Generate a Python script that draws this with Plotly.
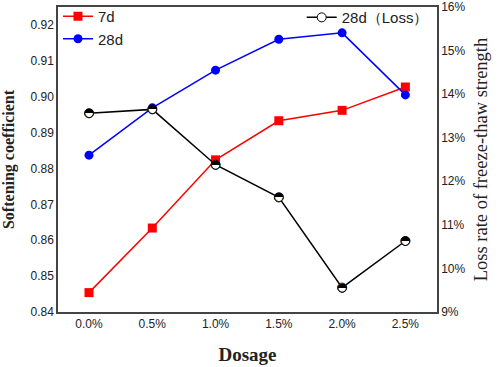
import plotly.graph_objects as go

dosage = ["0.0%", "0.5%", "1.0%", "1.5%", "2.0%", "2.5%"]
soft_7d = [0.8454, 0.8634, 0.8824, 0.8933, 0.8962, 0.9027]
soft_28d = [0.8837, 0.8969, 0.9074, 0.9160, 0.9178, 0.9005]
loss_28d = [0.1356, 0.1365, 0.1238, 0.1163, 0.0956, 0.1063]

fig = go.Figure()
fig.add_trace(go.Scatter(x=dosage, y=soft_7d, name="7d", mode="lines+markers",
                         line=dict(color="#FF0000", width=1.5),
                         marker=dict(symbol="square", size=9, color="#FF0000"),
                         legend="legend"))
fig.add_trace(go.Scatter(x=dosage, y=soft_28d, name="28d", mode="lines+markers",
                         line=dict(color="#0000FF", width=1.5),
                         marker=dict(symbol="circle", size=9, color="#0000FF"),
                         legend="legend"))
fig.add_trace(go.Scatter(x=dosage, y=loss_28d, name="28d（Loss）", mode="lines+markers",
                         yaxis="y2",
                         line=dict(color="#000000", width=1.5),
                         marker=dict(symbol="circle", size=9, color="#FFFFFF",
                                     line=dict(color="#000000", width=1)),
                         legend="legend2"))
fig.add_trace(go.Scatter(x=dosage, y=loss_28d, mode="text", yaxis="y2",
                         text=["◓"] * len(dosage), textposition="middle center",
                         textfont=dict(family="DejaVu Sans", size=12, color="#000000"),
                         showlegend=False, hoverinfo="skip"))

serif = "Liberation Serif, serif"
fig.update_layout(
    width=498, height=367,
    margin=dict(l=58, r=61, t=7, b=55, autoexpand=False),
    paper_bgcolor="white", plot_bgcolor="white",
    font=dict(family="Liberation Sans, Arial", size=12, color="#222"),
    xaxis=dict(type="category", range=[-0.49, 5.5], showgrid=False, ticks="",
               showline=True, linecolor="#444", linewidth=1.5, mirror=True, automargin=False,
               tickfont=dict(size=12),
               title=dict(text="<b>Dosage</b>", font=dict(family=serif, size=19, color="#222"),
                          standoff=18)),
    yaxis=dict(range=[0.84, 0.925], dtick=0.01, tickformat=".2f", showgrid=False, ticks="",
               showline=True, linecolor="#444", linewidth=1.5, zeroline=False, automargin=False,
               tickfont=dict(size=12),
               title=dict(text="<b>Softening coefficient</b>", font=dict(family=serif, size=16, color="#222"),
                          standoff=12)),
    yaxis2=dict(range=[0.09, 0.16], dtick=0.01, tickformat=".0%", overlaying="y", side="right",
                showgrid=False, ticks="", showline=True, linecolor="#444", linewidth=1.5, zeroline=False,
                automargin=False, tickfont=dict(size=12),
                title=dict(text="Loss rate of freeze-thaw strength", font=dict(family=serif, size=18.5, color="#222"),
                           standoff=10)),
    legend=dict(x=0, y=1.0, yref="container", xanchor="left", yanchor="top", bgcolor="rgba(0,0,0,0)",
                font=dict(size=15, color="#222"), tracegroupgap=0, itemwidth=30),
    legend2=dict(x=0.643, y=0.997, yref="container", xanchor="left", yanchor="top", bgcolor="rgba(0,0,0,0)",
                 font=dict(size=15, color="#222"), itemwidth=30),
)

fig.write_html("out.html", config={"displayModeBar": False},
               post_script="document.body.style.margin='0';")
